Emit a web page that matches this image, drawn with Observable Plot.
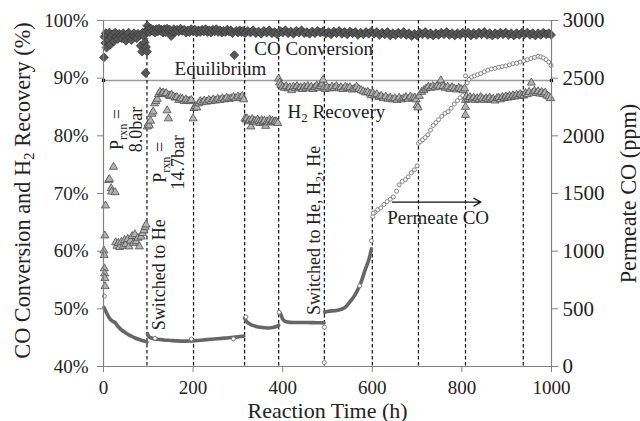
<!DOCTYPE html>
<html><head><meta charset="utf-8">
<script src="https://cdn.jsdelivr.net/npm/d3@7"></script>
<script src="https://cdn.jsdelivr.net/npm/@observablehq/plot@0.6"></script>
<style>
html,body{margin:0;padding:0;background:#fff;}
#chart svg{display:block;}
</style>
</head><body><div id="chart"></div>
<script>
// ---------- data ----------
const xTicks = [0, 200, 400, 600, 800, 1000];
const xTickLabels = ["0", "200", "400", "600", "800", "1000"];
const yTicks = [40, 50, 60, 70, 80, 90, 100];
const leftTickLabels = ["40%", "50%", "60%", "70%", "80%", "90%", "100%"];
const rightTickLabels = ["0", "500", "1000", "1500", "2000", "2500", "3000"];
const rightMax = 3000; // ppm at top of right axis

const switchHours = [97, 201, 315, 391, 493, 600, 703, 808, 937];

const equilibrium = [[0, 89.6], [1000, 89.6]];

const coConversion = [
[1,93.6],[2,97.2],[4,96.1],[5,97.8],[7,95.3],[9,97.4],[11,96.6],[13,97.9],[15,95.8],[17,97.1],[20,97.6],[23,96.4],[26,97.9],[29,97.2],[32,96.8],[35,97.7],[38,97.3],[41,96.9],[44,97.8],[47,97.4],[50,96.5],[53,97.6],[56,97.9],[59,97.0],[62,96.6],[65,97.5],[68,97.8],[71,97.2],[74,96.9],[77,97.7],[80,97.4],[83,95.6],[86,94.6],[88,97.9],[90,97.3],[92,96.2],[94,90.9],[95,95.4],[96,98.2],[97,94.6],
[98,99.1],[100,98.5],[103,98.0],[106,98.6],[109,98.2],[112,98.4],[115,97.9],[118,98.5],[121,98.1],[124,98.6],[127,98.2],[130,98.4],[133,97.9],[136,98.5],[139,98.0],[142,98.6],[145,98.2],[148,98.4],[151,97.3],[154,98.1],[157,98.5],[160,98.0],[164,98.4],[168,98.1],[172,98.6],[176,98.2],[180,98.4],[184,97.9],[188,98.3],[192,98.0],[196,98.5],[200,98.1],[204,98.4],[208,97.9],[212,98.3],[216,98.0],[220,98.4],[224,98.1],[228,98.5],[232,98.0],[236,98.3],[240,97.9],[244,98.4],[248,98.1],[252,98.5],[256,98.0],[260,98.3],[264,97.9],[268,98.2],[272,98.0],[276,98.4],[280,98.1],[284,98.3],[288,97.8],[292,94.0],[296,98.2],[300,97.9],[304,98.3],[308,98.0],[312,98.2],
[316,97.8],[322,98.2],[328,97.9],[334,98.3],[340,97.8],[346,98.1],[352,97.7],[358,98.2],[364,97.9],[370,98.3],[376,97.8],[382,98.0],[388,97.6],[394,98.2],[400,97.9],[406,98.3],[412,97.8],[418,98.1],[424,97.7],[430,98.2],[436,97.9],[442,98.3],[448,97.8],[454,98.0],[460,97.7],[466,98.1],[472,97.8],[478,98.2],[484,97.9],[490,98.1],[496,97.7],[502,98.0],[508,97.6],[514,98.1],[520,97.8],[526,98.2],[532,97.7],[538,98.0],[544,97.6],[550,98.1],[556,97.8],[562,98.0],[568,97.5],[574,97.9],[580,97.6],[586,98.0],[592,97.7],[598,98.1],
[604,97.7],[610,98.0],[616,97.5],[622,97.9],[628,97.6],[634,98.0],[640,97.4],[646,97.8],[652,97.5],[658,97.9],[664,97.6],[670,98.0],[676,97.5],[682,97.8],[688,97.3],[694,97.7],[700,97.4],[706,97.9],[712,97.6],[718,98.0],[724,97.5],[730,97.8],[736,97.4],[742,97.8],[748,97.5],[754,97.9],[760,97.6],[766,98.0],[772,97.5],[778,97.8],[784,97.4],[790,97.8],[796,97.5],[802,97.9],[808,97.6],[814,97.9],[820,97.4],[826,97.8],[832,97.5],[838,97.9],[844,97.6],[850,98.0],[856,97.5],[862,97.8],[868,97.4],[874,97.8],[880,97.5],[886,97.9],[892,97.6],[898,97.9],[904,97.5],[910,97.8],[916,97.4],[922,97.8],[928,97.5],[934,97.9],[940,97.6],[946,97.9],[952,97.5],[958,97.8],[964,97.4],[970,97.8],[976,97.5],[982,97.9],[988,97.6],[994,97.8],[999,97.5]
];

const h2Recovery = [
[1,60.1],[1.5,59.3],[2,57.0],[2.5,56.1],[3,55.3],[3.5,53.9],[3,62.7],[4.5,67.9],[11.6,72.3],[13,72.5],[17,70.9],[18,70.3],[22.4,74.6],[26,70.2],
[27,61.5],[30,60.9],[33,61.4],[36,60.7],[40,61.6],[44,60.9],[47,61.9],[50,61.2],[54,62.1],[57,60.8],[60,61.8],[64,62.6],[67,61.4],[70,62.9],[73,61.7],[77,62.3],[80,60.8],[84,62.5],[87,63.1],[90,63.6],[93,64.2],[95,64.6],
[98,81.6],[100,82.1],[102,81.8],[105,82.6],[108,83.8],[111,84.2],[114,85.6],[117,86.0],[120,86.4],[123,87.2],[126,87.6],[130,87.3],[133,87.5],[137,87.2],[140,87.4],[142,84.4],[145,83.0],[146,87.0],[149,86.9],[152,87.1],[156,86.8],[160,86.6],[164,86.7],[168,86.2],[172,86.5],[176,86.4],[180,86.0],[184,86.3],[188,86.1],[192,86.0],[196,86.2],
[200,83.0],[202,84.8],[205,85.1],[208,84.9],[212,85.6],[216,86.0],[220,85.8],[225,86.1],[230,85.9],[235,86.2],[240,86.0],[245,86.3],[250,86.1],[255,86.4],[260,86.2],[265,86.5],[270,86.3],[275,86.6],[280,86.4],[285,86.5],[290,86.7],[295,86.5],[300,86.8],[305,86.6],[310,86.9],[313,86.3],
[316,83.0],[318,82.8],[320,83.0],[323,82.5],[326,82.7],[329,81.6],[332,82.9],[335,82.4],[338,82.6],[341,82.3],[344,82.8],[347,82.5],[350,82.2],[353,82.7],[356,82.4],[359,82.6],[362,81.7],[365,82.5],[368,82.3],[371,82.8],[374,82.4],[377,82.6],[380,82.3],[383,82.5],[386,82.4],[389,82.2],
[391,89.9],[393,89.2],[396,88.8],[400,88.5],[404,88.3],[408,88.6],[412,88.2],[416,88.4],[420,87.9],[424,88.5],[428,88.3],[432,88.6],[436,88.2],[440,88.4],[444,88.1],[448,88.5],[452,88.3],[456,88.6],[460,88.2],[464,88.5],[468,88.1],[472,88.4],[476,88.7],[480,88.3],[484,88.6],[488,89.0],[490,89.7],[492,88.4],
[495,88.1],[500,88.4],[505,88.2],[510,88.5],[515,88.3],[520,88.6],[525,88.2],[530,88.4],[535,88.1],[540,88.5],[545,88.3],[550,88.4],[555,88.0],[560,88.2],[565,88.5],[570,88.1],[575,87.9],[580,87.7],[585,87.5],[590,87.6],[595,87.3],[598,87.0],
[601,87.4],[605,87.0],[610,87.2],[615,86.7],[620,86.9],[625,86.5],[630,86.8],[635,86.4],[640,86.6],[645,86.3],[650,86.5],[655,86.2],[660,86.6],[665,86.3],[670,86.5],[675,86.7],[680,86.4],[685,86.8],[690,86.5],[695,86.6],[698,86.3],[700,85.3],[702,84.9],
[705,86.9],[710,87.6],[715,87.9],[720,88.2],[725,88.5],[730,88.3],[735,88.6],[740,88.4],[745,88.7],[750,88.5],[753,89.6],[758,88.6],[763,88.3],[768,88.5],[773,88.1],[778,88.4],[783,88.2],[788,88.0],[793,88.3],[798,88.1],[803,87.9],[806,88.2],
[808,86.2],[808,85.0],[808,83.6],[810,86.8],[814,86.4],[818,86.7],[822,86.3],[826,86.6],[830,86.2],[834,86.5],[838,86.3],[842,86.7],[846,86.4],[850,86.2],[854,86.5],[858,86.3],[862,86.6],[866,86.2],[870,86.4],[874,86.1],[878,86.5],[882,86.6],[886,86.3],[890,86.7],[894,86.5],[898,86.8],[902,86.6],[906,86.9],[910,86.7],[914,87.0],[918,86.8],[922,87.1],[926,86.9],[930,87.2],[934,87.0],
[938,87.0],[942,87.4],[946,87.2],[950,87.6],[955,89.2],[958,87.5],[962,87.8],[966,87.4],[970,87.7],[974,87.3],[978,87.6],[982,87.2],[986,87.5],[990,87.0],[994,86.8],[998,86.5]
];

// Permeate CO (ppm), dense segments drawn as thick traces
const permeateA = [[1,513],[4,490],[8,455],[13,420],[19,395],[26,380],[33,345],[40,318],[48,295],[55,278],[63,262],[71,247],[78,236],[86,226],[93,218],[97,212]];
const permeateB = [[98,285],[100,265],[104,252],[110,243],[120,236],[135,230],[150,226],[165,222],[180,220],[195,221],[210,226],[225,231],[240,236],[255,241],[270,246],[285,251],[300,257],[313,263]];
const permeateC = [[315,420],[318,398],[322,380],[328,366],[335,354],[343,345],[350,340],[360,336],[370,334],[380,340],[388,350],[391,356]];
const permeateD = [[392,460],[394,468],[397,440],[400,410],[405,392],[412,385],[425,382],[440,381],[455,381],[470,380],[485,379],[492,378]];
const permeateE = [[494,470],[500,476],[510,482],[520,485],[530,495],[540,515],[550,560],[556,590],[562,625],[568,670],[574,720],[580,790],[586,860],[591,910],[595,965],[598,1020]];
// sparse segments drawn as open circles
const permeateF = [[601,1300],[606,1335],[612,1360],[619,1375],[626,1405],[633,1430],[640,1450],[647,1470],[654,1520],[660,1575],[667,1605],[674,1620],[680,1645],[687,1680],[694,1705],[700,1740]];
const permeateG = [[703,1935],[707,1950],[712,1965],[718,1985],[724,2010],[730,2050],[736,2090],[742,2115],[748,2140],[755,2170],[762,2195],[769,2210],[776,2240],[783,2275],[790,2305],[796,2330],[802,2350]];
const permeateH = [[808,2520],[812,2460],[816,2490],[822,2510],[828,2520],[835,2530],[842,2540],[850,2555],[858,2570],[866,2580],[874,2585],[882,2595],[890,2600],[898,2605],[906,2615],[914,2625],[922,2630],[930,2640],[938,2650],[946,2660],[954,2670],[962,2680],[970,2690],[976,2685],[982,2675],[988,2660],[994,2640],[999,2610]];
const permeateStray = [[2,610],[115,245],[196,238],[290,240],[318,430],[392,470],[493,35],[493,340],[572,700],[598,1090],[602,1330]];

// annotations
const labels = ["CO Conversion", "Equilibrium", "H_2 Recovery", "Permeate CO"];
const labelHours = [469, 261, 520, 747];
const labelValues = [95.0, 91.6, 84.1, 65.8];
const sideLabels = ["P_rxn =\n8.0bar", "P_rxn =\n14.7bar", "Switched to He", "Switched to He, H_2, He"];
const sideHours = [52, 146, 123, 470];
const sideValues = [81.1, 75.4, 55.9, 63.6];
const arrowHours = [645, 842];
const arrowValue = 68.5;

const xTitle = "Reaction Time (h)";
const yTitleLeft = "CO Conversion and H_2 Recovery (%)";
const yTitleRight = "Permeate CO (ppm)";

// ---------- chart ----------
const ppmToY = ppm => 40 + ppm / rightMax * 60; // right axis shares the left scale
const fx = d => d[0], fy = d => d[1], fppm = d => ppmToY(d[1]);
const font = "'Liberation Serif', 'Times New Roman', serif";

const permeateLines = [permeateA, permeateB, permeateC, permeateD, permeateE].map(seg =>
  Plot.line(seg, {x: fx, y: fppm, stroke: "#666", strokeWidth: 3.6, curve: "monotone-x"}));
const permeateDots = [permeateF, permeateG, permeateH, permeateStray].map(seg =>
  Plot.dot(seg, {x: fx, y: fppm, r: 2, stroke: "#777", strokeWidth: 0.9, fill: "#fff"}));

const annot = labels.map((t, i) => ({t, x: labelHours[i], y: labelValues[i]}));
const sideAnnot = sideLabels.map((t, i) => ({t, x: sideHours[i], y: sideValues[i]}));

const chart = Plot.plot({
  width: 640, height: 421,
  marginTop: 20, marginBottom: 55, marginLeft: 103, marginRight: 89,
  style: {fontFamily: font, background: "#fff", color: "#222", overflow: "visible"},
  x: {domain: [0, 1000]},
  y: {domain: [40, 100]},
  marks: [
    Plot.ruleY([100], {stroke: "#9a9a9a", strokeWidth: 1.2}),
    Plot.line(equilibrium, {x: fx, y: fy, stroke: "#9a9a9a", strokeWidth: 1.5}),
    Plot.ruleX(switchHours, {stroke: "#111", strokeWidth: 1.2, strokeDasharray: "3.5,2.5"}),
    ...permeateLines,
    ...permeateDots,
    Plot.dot(h2Recovery, {x: fx, y: fy, symbol: "triangle", r: 3, fill: "#b3b3b3", stroke: "#4d4d4d", strokeWidth: 0.8}),
    Plot.dot(coConversion, {x: fx, y: fy, symbol: "diamond2", r: 4, fill: "#575757", stroke: "#333", strokeWidth: 0.7}),
    Plot.dot(equilibrium, {x: fx, y: fy, symbol: "square", r: 1.8, fill: "#000"}),
    Plot.ruleX([0, 1000], {stroke: "#808080", strokeWidth: 1.2}),
    Plot.ruleY([40], {stroke: "#808080", strokeWidth: 1.2}),
    Plot.axisY({anchor: "left", ticks: yTicks, tickFormat: d => leftTickLabels[yTicks.indexOf(d)], tickSize: 6, tickPadding: 9, fontSize: 19, label: null, stroke: "#808080", fill: "#222"}),
    Plot.axisY({anchor: "right", ticks: yTicks, tickFormat: d => rightTickLabels[yTicks.indexOf(d)], tickSize: 6, tickPadding: 5, fontSize: 21, label: null, stroke: "#808080", fill: "#222"}),
    Plot.axisX({ticks: xTicks, tickFormat: d => xTickLabels[xTicks.indexOf(d)], tickSize: 6, tickPadding: 8, fontSize: 19, label: null, stroke: "#808080", fill: "#222"}),
    Plot.text(annot, {x: "x", y: "y", text: "t", fontSize: 19, fill: "#222"}),
    Plot.text(sideAnnot, {x: "x", y: "y", text: "t", fontSize: 18, rotate: -90, lineHeight: 1.05, fill: "#222"}),
    Plot.arrow([arrowValue], {x1: arrowHours[0], x2: arrowHours[1], y1: d => d, y2: d => d, stroke: "#111", strokeWidth: 1.3, headLength: 9}),
    Plot.text([xTitle], {text: d => d, frameAnchor: "bottom", textAnchor: "middle", lineAnchor: "middle", dy: 44.5, fontSize: 22, fill: "#222"}),
    Plot.text([yTitleLeft], {text: d => d, frameAnchor: "left", textAnchor: "middle", lineAnchor: "middle", dx: -81, dy: -3, rotate: -90, fontSize: 22.3, fill: "#222"}),
    Plot.text([yTitleRight], {text: d => d, frameAnchor: "right", textAnchor: "middle", lineAnchor: "middle", dx: 77, rotate: -90, fontSize: 22.3, fill: "#222"})
  ]
});

// turn "_xyz" into subscripts (real text, shifted tspans)
function applySubscripts(root) {
  const walker = document.createTreeWalker(root, NodeFilter.SHOW_TEXT);
  const nodes = [];
  while (walker.nextNode()) if (walker.currentNode.nodeValue.includes("_")) nodes.push(walker.currentNode);
  for (const node of nodes) {
    const parts = node.nodeValue.split(/_(\w+)/);
    const frag = document.createDocumentFragment();
    parts.forEach((p, i) => {
      const t = document.createElementNS("http://www.w3.org/2000/svg", "tspan");
      t.textContent = p;
      if (i % 2 === 1) { t.setAttribute("dy", "4"); t.style.fontSize = "68%"; }
      else if (i > 0) { t.setAttribute("dy", "-4"); }
      frag.appendChild(t);
    });
    node.parentNode.replaceChild(frag, node);
  }
}
applySubscripts(chart);
document.getElementById("chart").appendChild(chart);
</script>
</body></html>
